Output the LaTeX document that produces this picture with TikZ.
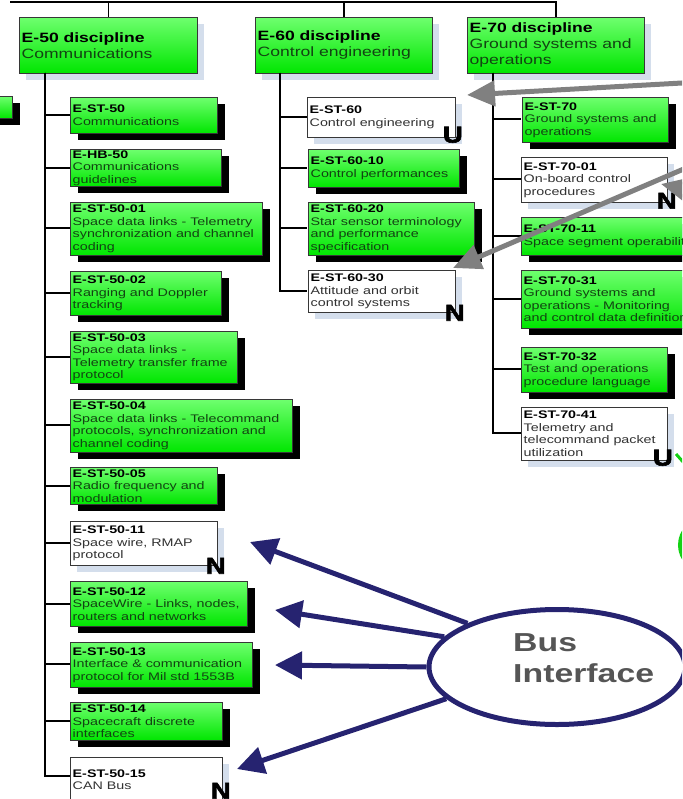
\documentclass[tikz,border=0pt]{standalone}
\usepackage{fontspec}
\setmainfont[FakeStretch=1.3]{Liberation Sans}
\newfontfamily\heavyfont[FakeStretch=1.2, BoldFeatures={FakeBold=2.5}]{Liberation Sans}
\usetikzlibrary{shapes.geometric,shadows,arrows.meta}

\definecolor{gtop}{RGB}{110,255,110}
\definecolor{gbot}{RGB}{0,230,0}
\definecolor{edge}{RGB}{55,55,55}
\definecolor{paleshadow}{RGB}{212,222,236}
\definecolor{gtext}{RGB}{18,68,18}
\definecolor{wtext}{RGB}{50,50,50}
\definecolor{navy}{RGB}{38,35,112}
\definecolor{pointer}{RGB}{128,128,128}
\definecolor{busgray}{RGB}{85,85,85}
\definecolor{brightgreen}{RGB}{20,210,20}

% bold black code line at the head of a box
\newcommand\cd[1]{{\color{black}\bfseries #1}}

% box with its text: name, style, x, y (top left), width, height, text
\newcommand\stdbox[7]{%
  \node[#2, minimum width=#5pt, minimum height=#6pt] (#1) at (#3,#4) {};
  \node[#2text, anchor=west] (#1t) at ([xshift=2.5pt]#1.west) {#7};
}

\begin{document}
\begin{tikzpicture}[x=1pt,y=-1pt,
  boxbase/.style={draw=edge, line width=0.8pt, inner sep=0pt, anchor=north west},
  greenbox/.style={boxbase, top color=gtop, bottom color=gbot,
    drop shadow={fill=black, opacity=1, shadow xshift=8pt, shadow yshift=-7pt}},
  whitebox/.style={boxbase, fill=white,
    drop shadow={fill=paleshadow, opacity=1, shadow xshift=7pt, shadow yshift=-7pt}},
  headbox/.style={boxbase, top color=gtop, bottom color=gbot,
    drop shadow={fill=paleshadow, opacity=1, shadow xshift=7pt, shadow yshift=-7pt}},
  greenboxtext/.style={inner sep=0pt, align=left, text=gtext, font=\fontsize{11}{12.5}\selectfont},
  whiteboxtext/.style={inner sep=0pt, align=left, text=wtext, font=\fontsize{11}{12.5}\selectfont},
  headboxtext/.style={inner sep=0pt, align=left, text=gtext, font=\fontsize{13.5}{16}\selectfont},
  wire/.style={draw=black, line width=1.5pt},
  flag/.style={inner sep=0pt, text=black, font=\fontsize{23}{23}\heavyfont\bfseries},
  busarrow/.style={draw=navy, line width=5pt, -{Triangle[length=27pt,width=27pt]}},
  grayarrow/.style={draw=pointer, line width=5pt, -{Triangle[length=28pt,width=25pt]}},
]
\useasboundingbox (0,0) rectangle (682,799);
\clip (0,0) rectangle (682,799);

% ---------- discipline headers ----------
\coordinate (rail) at (10,2);
\stdbox{h50}{headbox}{19}{17}{178}{56}{\cd{E-50 discipline}\\Communications}
\stdbox{h60}{headbox}{255}{17}{177}{56}{\cd{E-60 discipline}\\Control engineering}
\stdbox{h70}{headbox}{467}{17}{177}{56}{\cd{E-70 discipline}\\Ground systems and\\operations}

\draw[wire] (rail) -| (h70.north);
\draw[wire] (h50.north) -- (h50.north |- rail);
\draw[wire] (h60.north) -- (h60.north |- rail);

% neighbouring column, cut by the left edge
\node[greenbox, minimum width=152pt, minimum height=22pt] (prev) at (-140,96) {};

% ---------- trunks ----------
\coordinate (t50) at (45,73);
\coordinate (t60) at (280,73);
\coordinate (t70) at (493,73);

% ---------- E-50 column ----------
\foreach \b/\yy in {s50/115,hb50/168,s5001/228,s5002/293,s5003/357,s5004/425,s5005/486,
                    s5011/543,s5012/604,s5013/664,s5014/721,s5015/776}
  \coordinate (\b-j) at (70,\yy);
\foreach \b in {s50,hb50,s5001,s5002,s5003,s5004,s5005,s5011,s5012,s5013,s5014,s5015}
  \draw[wire] (t50) |- (\b-j);

\stdbox{s50}{greenbox}{70}{97}{147}{36}{\cd{E-ST-50}\\Communications}
\stdbox{hb50}{greenbox}{70}{149}{151}{37}{\cd{E-HB-50}\\Communications\\guidelines}
\stdbox{s5001}{greenbox}{70}{202}{192}{53}{\cd{E-ST-50-01}\\Space data links - Telemetry\\synchronization and channel\\coding}
\stdbox{s5002}{greenbox}{70}{271}{151}{44}{\cd{E-ST-50-02}\\Ranging and Doppler\\tracking}
\stdbox{s5003}{greenbox}{70}{331}{167}{52}{\cd{E-ST-50-03}\\Space data links -\\Telemetry transfer frame\\protocol}
\stdbox{s5004}{greenbox}{70}{399}{222}{53}{\cd{E-ST-50-04}\\Space data links - Telecommand\\protocols, synchronization and\\channel coding}
\stdbox{s5005}{greenbox}{70}{467}{147}{37}{\cd{E-ST-50-05}\\Radio frequency and\\modulation}
\stdbox{s5011}{whitebox}{70}{521}{147}{44}{\cd{E-ST-50-11}\\Space wire, RMAP\\protocol}
\stdbox{s5012}{greenbox}{70}{581}{177}{45}{\cd{E-ST-50-12}\\SpaceWire - Links, nodes,\\routers and networks}
\stdbox{s5013}{greenbox}{70}{642}{182}{45}{\cd{E-ST-50-13}\\Interface \& communication\\protocol for Mil std 1553B}
\stdbox{s5014}{greenbox}{70}{702}{152}{38}{\cd{E-ST-50-14}\\Spacecraft discrete\\interfaces}
\stdbox{s5015}{whitebox}{70}{757}{152}{45}{\cd{E-ST-50-15}\\CAN Bus}

% ---------- E-60 column ----------
\foreach \b/\yy in {s60/117,s6010/168,s6020/228,s6030/291}
  \coordinate (\b-j) at (307,\yy);
\foreach \b in {s60,s6010,s6020,s6030}
  \draw[wire] (t60) |- (\b-j);
\stdbox{s60}{whitebox}{307}{97}{148}{40}{\cd{E-ST-60}\\Control engineering}
\stdbox{s6010}{greenbox}{308}{149}{151}{38}{\cd{E-ST-60-10}\\Control performances}
\stdbox{s6020}{greenbox}{308}{202}{166}{53}{\cd{E-ST-60-20}\\Star sensor terminology\\and performance\\specification}
\stdbox{s6030}{whitebox}{308}{270}{147}{42}{\cd{E-ST-60-30}\\Attitude and orbit\\control systems}

% ---------- E-70 column ----------
\foreach \b/\yy in {s70/119,s7001/179,s7011/236,s7031/299,s7032/369,s7041/433}
  \coordinate (\b-j) at (521,\yy);
\foreach \b in {s70,s7001,s7011,s7031,s7032,s7041}
  \draw[wire] (t70) |- (\b-j);
\stdbox{s70}{greenbox}{522}{97}{146}{45}{\cd{E-ST-70}\\Ground systems and\\operations}
\stdbox{s7001}{whitebox}{521}{157}{146}{45}{\cd{E-ST-70-01}\\On-board control\\procedures}
\stdbox{s7011}{greenbox}{521}{217}{200}{38}{\cd{E-ST-70-11}\\Space segment operability}
\stdbox{s7031}{greenbox}{521}{270}{200}{58}{\cd{E-ST-70-31}\\Ground systems and\\operations - Monitoring\\and control data definition}
\stdbox{s7032}{greenbox}{521}{347}{146}{45}{\cd{E-ST-70-32}\\Test and operations\\procedure language}
\stdbox{s7041}{whitebox}{521}{407}{146}{53}{\cd{E-ST-70-41}\\Telemetry and\\telecommand packet\\utilization}

% ---------- status letters ----------
\node[flag] (f60)   at ([xshift=-3pt,yshift=3pt]s60.south east) {U};
\node[flag] (f6030) at ([xshift=-1pt]s6030.south east) {N};
\node[flag] (f7001) at ([xshift=-1pt,yshift=2pt]s7001.south east) {N};
\node[flag] (f7041) at ([xshift=-5pt,yshift=3pt]s7041.south east) {U};
\node[flag] (f5011) at ([xshift=-2pt]s5011.south east) {N};
\node[flag] (f5015) at ([xshift=-2pt,yshift=12pt]s5015.south east) {N};

% ---------- grey pointers from the right ----------
\coordinate (g1s) at (700,82);
\coordinate (g1e) at (467,95);
\coordinate (g2s) at (700,162);
\coordinate (g2e) at (453,268);
\coordinate (g3s) at (715,196);
\coordinate (g3e) at (661,184);
\draw[grayarrow] (g1s) -- (g1e);
\draw[grayarrow] (g2s) -- (g2e);
\draw[grayarrow] (g3s) -- (g3e);

% green marks of shapes beyond the right edge
\coordinate (gm1) at (676,454);
\coordinate (gm2) at (692,472);
\draw[brightgreen, line width=3pt] (gm1) -- (gm2);
\node[circle, draw=brightgreen, line width=6pt, minimum size=50pt, inner sep=0pt] (gring) at (706,545) {};

% ---------- bus interface ----------
\node[ellipse, draw=navy, line width=5pt, minimum width=256pt, minimum height=115pt, inner sep=0pt] (bus) at (557,667) {};
\node[anchor=west, align=left, inner sep=0pt, text=busgray,
      font=\fontsize{26}{31}\selectfont\bfseries] (bustxt) at (513,658) {Bus\\Interface};

\coordinate (b1) at (250,542);
\coordinate (b2) at (275,610);
\coordinate (b3) at (275,665);
\coordinate (b4) at (237,769);
\draw[busarrow] (bus.154) -- (b1);
\draw[busarrow] (bus.165) -- (b2);
\draw[busarrow] (bus.180) -- (b3);
\draw[busarrow] (bus.196) -- (b4);
\end{tikzpicture}
\end{document}
